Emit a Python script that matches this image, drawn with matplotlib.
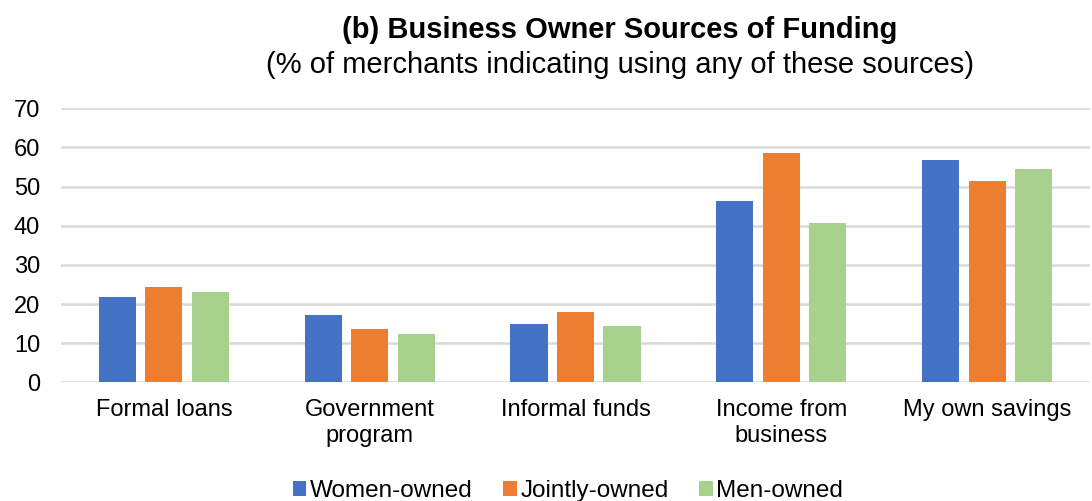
import numpy as np
import matplotlib.pyplot as plt

plt.rcParams['font.family'] = ['Liberation Sans', 'DejaVu Sans']

categories = ["Formal loans", "Government\nprogram", "Informal funds",
              "Income from\nbusiness", "My own savings"]
series_names = ["Women-owned", "Jointly-owned", "Men-owned"]
women = [21.9, 17.2, 14.8, 46.2, 56.8]
jointly = [24.3, 13.5, 17.9, 58.6, 51.4]
men = [23.1, 12.4, 14.4, 40.6, 54.4]
colors = ["#4472c4", "#ed7d31", "#a9d18e"]
y_ticks = [0, 10, 20, 30, 40, 50, 60, 70]


def main():
    fig = plt.figure(figsize=(10.92, 5.01), dpi=100)
    ax = fig.add_axes([61 / 1092, 1 - 382.3 / 501, (1090 - 61) / 1092, 274 / 501])

    x = np.arange(len(categories))
    width = 0.18
    step = 0.226
    for i, (vals, name) in enumerate(zip([women, jointly, men], series_names)):
        ax.bar(x + (i - 1) * step, vals, width, color=colors[i], label=name,
               zorder=3)

    ax.set_xlim(-0.5, len(categories) - 0.5)
    ax.set_ylim(0, 70)
    ax.set_yticks(y_ticks)
    ax.set_xticks(x)
    ax.set_xticklabels(categories, fontsize=17, linespacing=1.25)
    ax.tick_params(axis='y', labelsize=17, length=0, pad=15)
    ax.tick_params(axis='x', length=0, pad=12)
    ax.yaxis.grid(True, color="#d9d9d9", linewidth=1.8, zorder=0)
    for s in ax.spines.values():
        s.set_visible(False)

    fig.text(620 / 1092, 1 - 30 / 501, "(b) Business Owner Sources of Funding",
             ha='center', va='center', fontsize=21, fontweight='bold')
    fig.text(620 / 1092, 1 - 65 / 501,
             "(% of merchants indicating using any of these sources)",
             ha='center', va='center', fontsize=21)

    fig.legend(loc='center', bbox_to_anchor=(568 / 1092, 1 - 491 / 501), ncol=3,
               frameon=False, fontsize=17.5, handlelength=0.55, handleheight=0.55,
               handletextpad=0.15, columnspacing=1.27)

    fig.savefig("out.png", dpi=100)


if __name__ == "__main__":
    main()
